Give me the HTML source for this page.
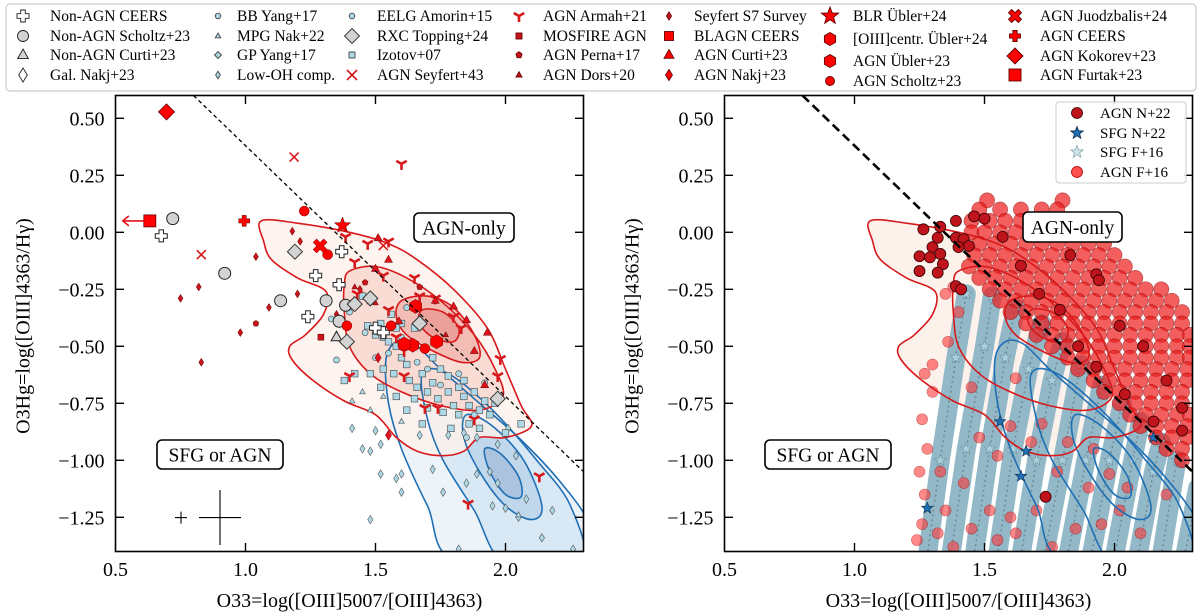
<!DOCTYPE html>
<html><head><meta charset="utf-8"><style>
html,body{margin:0;padding:0;background:#fff;}
svg{display:block;font-family:"Liberation Serif","DejaVu Serif",serif;}
</style></head><body>
<svg id="fig" width="1200" height="614" viewBox="0 0 1200 614" xmlns="http://www.w3.org/2000/svg">
<defs>
<clipPath id="clipL"><rect x="115.5" y="95.5" width="468" height="456"/></clipPath>
<clipPath id="clipR"><rect x="724.5" y="95.5" width="468" height="456"/></clipPath>
</defs>
<g id="legendTop"></g>
<g id="panelL"></g>
<g id="panelR"></g>
</svg>
<script>
// ---------------- DATA ----------------
const xTicks = [0.5, 1.0, 1.5, 2.0];
const xTickLabels = ["0.5", "1.0", "1.5", "2.0"];
const yTicks = [0.5, 0.25, 0.0, -0.25, -0.5, -0.75, -1.0, -1.25];
const yTickLabels = ["0.50", "0.25", "0.00", "\u22120.25", "\u22120.50", "\u22120.75", "\u22121.00", "\u22121.25"];
const demarcLine = [[0.8, 0.6], [2.3, -1.05]];

const redContour1 = [[1.06,0.05],[1.2,0.04],[1.4,0.0],[1.55,-0.05],[1.66,-0.12],[1.8,-0.25],[1.93,-0.42],[2.0,-0.6],[2.06,-0.76],[2.1,-0.85],[2.0,-0.9],[1.9,-0.9],[1.84,-0.96],[1.76,-0.98],[1.66,-0.96],[1.58,-0.9],[1.5,-0.8],[1.38,-0.74],[1.26,-0.65],[1.18,-0.56],[1.17,-0.5],[1.23,-0.45],[1.3,-0.36],[1.31,-0.26],[1.2,-0.2],[1.1,-0.12],[1.07,-0.04]];
const redContour2 = [[1.4,-0.17],[1.5,-0.15],[1.62,-0.2],[1.75,-0.3],[1.88,-0.45],[1.96,-0.6],[1.99,-0.72],[1.9,-0.78],[1.75,-0.76],[1.6,-0.7],[1.48,-0.62],[1.4,-0.5],[1.38,-0.35],[1.38,-0.23]];
const redContour3 = [[1.6,-0.3],[1.7,-0.28],[1.8,-0.33],[1.88,-0.45],[1.9,-0.55],[1.83,-0.57],[1.72,-0.52],[1.62,-0.45],[1.58,-0.37]];
const redContour4 = [[1.68,-0.34],[1.76,-0.35],[1.82,-0.42],[1.8,-0.48],[1.72,-0.46],[1.67,-0.4]];
const blueContour1 = [[1.54,-0.56],[1.58,-0.48],[1.65,-0.49],[1.75,-0.6],[1.9,-0.75],[2.05,-0.9],[2.2,-1.08],[2.32,-1.27],[2.36,-1.45],[1.82,-1.45],[1.7,-1.2],[1.6,-0.95],[1.55,-0.75]];
const blueContour2 = [[1.68,-0.62],[1.78,-0.62],[1.95,-0.78],[2.12,-1.0],[2.25,-1.2],[2.29,-1.45],[2.0,-1.45],[1.88,-1.22],[1.76,-1.0],[1.7,-0.82]];
const blueContour3 = [[1.85,-0.8],[1.95,-0.85],[2.07,-1.0],[2.14,-1.2],[2.1,-1.26],[2.0,-1.2],[1.9,-1.05],[1.84,-0.9]];
const blueContour4 = [[1.92,-0.95],[1.98,-0.97],[2.05,-1.07],[2.06,-1.16],[2.0,-1.15],[1.94,-1.05]];

// left-panel samples
const izotov = [[1.47,-0.41],[1.50,-0.45],[1.53,-0.46],[1.55,-0.48],[1.58,-0.50],[1.60,-0.55],[1.62,-0.58],[1.57,-0.62],[1.53,-0.60],[1.48,-0.62],[1.52,-0.68],[1.58,-0.72],[1.63,-0.65],[1.66,-0.68],[1.68,-0.62],[1.70,-0.70],[1.72,-0.66],[1.75,-0.60],[1.78,-0.63],[1.74,-0.73],[1.78,-0.70],[1.80,-0.76],[1.82,-0.68],[1.84,-0.72],[1.86,-0.76],[1.88,-0.70],[1.90,-0.78],[1.92,-0.74],[1.94,-0.80],[1.86,-0.84],[1.82,-0.80],[1.76,-0.79],[1.70,-0.77],[1.65,-0.73],[1.62,-0.78],[1.68,-0.84],[1.90,-0.86],[1.96,-0.75],[2.0,-0.88],[2.06,-0.84],[1.65,-0.42],[1.60,-0.40],[1.56,-0.36],[1.52,-0.40],[1.48,-0.30],[1.45,-0.28],[1.42,-0.62],[1.38,-0.65],[1.72,-0.55],[1.79,-0.86],[1.84,-0.65],[1.58,-0.42]];
const bbYang = [[1.35,-0.56],[1.40,-0.35],[1.55,-0.53],[1.60,-0.46],[1.66,-0.57],[1.75,-0.67],[1.82,-0.62],[1.88,-0.8],[1.92,-0.66],[1.56,-0.42],[1.62,-0.33],[1.46,-0.44],[1.50,-0.55],[1.70,-0.6],[1.85,-0.9],[1.33,-0.38]];
const mpgNak = [[1.41,-0.74],[1.48,-0.78],[1.53,-0.72],[2.05,-1.24],[1.60,-0.83],[1.45,-0.7]];
const gpYang = [[1.41,-0.86],[1.50,-0.87],[1.45,-0.95],[1.48,-0.96],[1.52,-0.93],[1.52,-1.06],[1.58,-1.08],[1.60,-1.06],[1.60,-1.14],[1.48,-1.26],[1.67,-0.89],[1.78,-0.89],[1.72,-1.04],[1.76,-1.14],[1.85,-1.10],[1.89,-1.06],[1.94,-1.05],[1.97,-1.10],[2.0,-1.21],[2.04,-0.98],[2.08,-1.17],[2.18,-1.22],[2.14,-1.34],[2.26,-1.39],[1.82,-1.39],[1.89,-0.90],[1.97,-0.93],[2.01,-0.86],[1.84,-0.88],[1.95,-1.2],[2.05,-1.25]];
const nonAgnScholtz = [[0.72,0.06],[0.92,-0.18],[1.135,-0.30],[1.31,-0.30],[1.385,-0.32],[1.36,-0.39]];
const nonAgnCeers = [[0.676,-0.016],[1.27,-0.19],[1.24,-0.37],[1.37,-0.085],[1.36,-0.23],[1.50,-0.42],[1.53,-0.44]];
const nonAgnCurti = [[1.35,-0.46]];
const rxcTopping = [[1.19,-0.085],[1.42,-0.315],[1.39,-0.48],[1.67,-0.40],[1.48,-0.29],[1.97,-0.73]];
const agnSeyfert = [[1.187,0.33],[0.83,-0.098],[1.53,-0.058]];
const seyfertS7 = [[1.18,0.005],[1.21,-0.04],[1.04,-0.107],[0.82,-0.24],[0.75,-0.29],[1.09,-0.33],[1.20,-0.27],[0.98,-0.44],[0.83,-0.57],[1.35,-0.36],[1.44,-0.25]];
const agnArmah = [[1.6,0.30],[1.385,-0.02],[1.47,-0.05],[1.55,-0.04],[1.42,-0.13],[1.53,-0.19],[1.65,-0.2],[1.43,-0.27],[1.67,-0.28],[1.73,-0.29],[1.55,-0.34],[1.80,-0.37],[1.83,-0.42],[1.98,-0.555],[1.97,-0.63],[1.40,-0.63],[1.61,-0.63],[1.69,-0.77],[1.74,-0.77],[1.856,-1.19],[2.13,-1.07],[1.88,-0.82],[1.61,-0.52],[1.58,-0.46]];
const agnCurti = [[1.51,-0.025],[1.55,-0.12],[1.50,-0.16],[1.59,-0.39],[1.80,-0.325],[1.85,-0.385],[1.88,-0.52],[1.93,-0.44],[1.92,-0.67],[1.73,-0.30]];
const agnDors = [[1.50,-0.31],[1.42,-0.24],[1.77,-0.45]];
const agnPerna = [[1.67,-0.24],[1.46,-0.22],[1.04,-0.40]];
const mosfireAgn = [[1.29,-0.46]];
const agnNakj = [[1.55,-0.89],[1.51,-0.55]];
const agnScholtz = [[1.226,0.093],[1.316,-0.098],[1.39,-0.41],[1.56,-0.41],[1.69,-0.51]];
const agnUbler = [[1.654,-0.325],[1.735,-0.48],[1.643,-0.495],[1.61,-0.49]];
const blrUbler = [[1.373,0.03]];
const agnJuodzbalis = [[1.287,-0.06]];
const agnCeers = [[0.995,0.05]];
const agnKokorev = [[0.696,0.528]];
const agnFurtak = [[0.632,0.05]];

// right-panel samples
const sfgF16Tracks = [
 [[1.28,-1.42],[1.33,-1.0],[1.39,-0.55],[1.43,-0.27]],
 [[1.37,-1.42],[1.43,-0.95],[1.50,-0.5],[1.53,-0.28]],
 [[1.46,-1.42],[1.52,-0.95],[1.58,-0.55],[1.62,-0.33]],
 [[1.55,-1.42],[1.61,-0.95],[1.67,-0.6],[1.72,-0.40]],
 [[1.64,-1.42],[1.70,-1.0],[1.76,-0.65],[1.80,-0.48]],
 [[1.73,-1.42],[1.80,-1.0],[1.87,-0.58]],
 [[1.82,-1.42],[1.89,-1.0],[1.95,-0.67]],
 [[1.91,-1.42],[1.98,-1.0],[2.03,-0.75]],
 [[2.00,-1.42],[2.07,-1.0],[2.10,-0.83]],
 [[2.09,-1.42],[2.15,-1.05],[2.18,-0.92]],
 [[2.18,-1.42],[2.24,-1.0]],
 [[2.27,-1.42],[2.32,-1.12]]
];
const agnF16Rows = [
 [0.14,[1.51,1.80]],
 [0.10,[1.48,1.56,1.64,1.72,1.78]],
 [0.05,[1.45,1.52,1.58,1.64,1.70,1.76,1.82,1.86]],
 [0.00,[1.45,1.50,1.56,1.62,1.68,1.74,1.80,1.86,1.92]],
 [-0.05,[1.48,1.54,1.60,1.66,1.72,1.78,1.84,1.90,1.96]],
 [-0.10,[1.46,1.52,1.58,1.64,1.70,1.76,1.82,1.88,1.94,2.00]],
 [-0.15,[1.44,1.50,1.56,1.62,1.68,1.74,1.80,1.86,1.92,1.98,2.04]],
 [-0.20,[1.48,1.54,1.60,1.66,1.72,1.78,1.84,1.90,1.96,2.02,2.08]],
 [-0.25,[1.52,1.58,1.64,1.70,1.76,1.82,1.88,1.94,2.00,2.06,2.12,2.18]],
 [-0.30,[1.56,1.62,1.68,1.74,1.80,1.86,1.92,1.98,2.04,2.10,2.16,2.22]],
 [-0.35,[1.60,1.66,1.72,1.78,1.84,1.90,1.96,2.02,2.08,2.14,2.20,2.26]],
 [-0.40,[1.66,1.72,1.78,1.84,1.90,1.96,2.02,2.08,2.14,2.20,2.26]],
 [-0.45,[1.70,1.76,1.82,1.88,1.94,2.00,2.06,2.12,2.18,2.24,2.29]],
 [-0.50,[1.76,1.82,1.88,1.94,2.00,2.06,2.12,2.18,2.24,2.29]],
 [-0.55,[1.82,1.88,1.94,2.00,2.06,2.12,2.18,2.24,2.29]],
 [-0.60,[1.86,1.92,1.98,2.04,2.10,2.16,2.22,2.28]],
 [-0.65,[1.92,1.98,2.04,2.10,2.16,2.22,2.28]],
 [-0.70,[1.96,2.02,2.08,2.14,2.20,2.26]],
 [-0.75,[2.02,2.08,2.14,2.20,2.26]],
 [-0.80,[2.06,2.12,2.18,2.24,2.29]],
 [-0.85,[2.10,2.16,2.22,2.28]],
 [-0.90,[2.16,2.22,2.28]],
 [-0.95,[2.20,2.26]],
 [-1.00,[2.26]]
];
const agnF16Scatter = [[1.27,-0.62],[1.30,-0.70],[1.26,-0.82],[1.28,-0.95],[1.25,-1.05],[1.27,-1.15],[1.26,-1.28],[1.24,-1.35],[1.32,-1.32],[1.35,-1.22],[1.38,-1.38],[1.45,-1.30],[1.52,-1.22],[1.55,-1.35],[1.60,-1.25],[1.30,-0.58],[1.36,-0.48],[1.40,-0.35],[1.33,-1.05],[1.42,-1.10],[1.62,-1.32],[1.70,-1.22],[1.76,-1.38],[1.85,-1.30],[1.95,-1.28],[2.02,-1.22],[2.10,-1.32],[2.2,-1.15],[1.82,-0.92],[1.72,-0.84],[1.60,-0.85],[1.68,-0.92],[1.92,-0.95],[1.48,-0.90],[1.55,-0.98],[1.90,-1.12],[1.98,-1.06],[2.05,-1.12],[1.45,-0.68],[1.62,-0.64],[1.78,-1.05],[1.35,-0.27],[1.38,-0.24]];
const agnN22 = [[1.265,0.013],[1.33,0.024],[1.39,0.05],[1.46,0.07],[1.50,0.06],[1.32,-0.024],[1.30,-0.065],[1.25,-0.105],[1.29,-0.11],[1.33,-0.095],[1.34,-0.14],[1.25,-0.17],[1.32,-0.177],[1.39,-0.024],[1.42,-0.03],[1.44,-0.06],[1.40,-0.065],[1.39,-0.236],[1.41,-0.25],[1.93,-0.184],[1.94,-0.21],[1.735,-1.16],[1.57,-0.02],[1.79,-0.34],[1.93,-0.59],[2.02,-0.41],[2.11,-0.50],[2.2,-0.65],[2.26,-0.77],[2.04,-0.71],[2.15,-0.83],[1.86,-0.50],[1.71,-0.27],[1.64,-0.147],[1.83,-0.10],[2.26,-0.87]];
const sfgN22 = [[1.28,-1.21],[1.64,-1.07],[1.66,-0.96],[1.56,-0.83],[2.15,-0.90]];

// ---------------- DRAWING ----------------
const NS = 'http://www.w3.org/2000/svg';
function mk(tag, attrs, parent) {
  const e = document.createElementNS(NS, tag);
  for (const k in attrs) e.setAttribute(k, attrs[k]);
  parent.appendChild(e);
  return e;
}
const Y0 = 232.3, YS = 228, XS = 260;
function makeAxis(x0) {
  return { sx: v => x0 + (v - 0.5) * XS, sy: v => Y0 - v * YS };
}
const AL = makeAxis(115.5), AR = makeAxis(724.5);

function polyPts(cx, cy, pts) { return pts.map(p => (cx + p[0]).toFixed(1) + ',' + (cy + p[1]).toFixed(1)).join(' '); }
function regPoly(n, s, rot) { const a = []; for (let i = 0; i < n; i++) { const t = rot + i * 2 * Math.PI / n; a.push([s * Math.cos(t), s * Math.sin(t)]); } return a; }
function starPts(s) { const a = []; for (let i = 0; i < 10; i++) { const r = i % 2 ? s * 0.42 : s; const t = -Math.PI / 2 + i * Math.PI / 5; a.push([r * Math.cos(t), r * Math.sin(t)]); } return a; }
function plusPts(s, w) { return [[-w,-s],[w,-s],[w,-w],[s,-w],[s,w],[w,w],[w,s],[-w,s],[-w,w],[-s,w],[-s,-w],[-w,-w]]; }
function rot45(pts) { const c = Math.SQRT1_2; return pts.map(p => [(p[0] - p[1]) * c, (p[0] + p[1]) * c]); }

function marker(parent, type, cx, cy, s, fill, stroke, sw, op) {
  let e;
  const base = { fill: fill, stroke: stroke, 'stroke-width': sw };
  if (op !== undefined) base['opacity'] = op;
  if (type === 'circle') { e = mk('circle', Object.assign({ cx: cx, cy: cy, r: s }, base), parent); }
  else if (type === 'square') { e = mk('rect', Object.assign({ x: cx - s, y: cy - s, width: 2 * s, height: 2 * s }, base), parent); }
  else if (type === 'd') { e = mk('polygon', Object.assign({ points: polyPts(cx, cy, [[0,-s],[s*0.62,0],[0,s],[-s*0.62,0]]) }, base), parent); }
  else if (type === 'D') { e = mk('polygon', Object.assign({ points: polyPts(cx, cy, [[0,-s],[s,0],[0,s],[-s,0]]) }, base), parent); }
  else if (type === 'tri') { e = mk('polygon', Object.assign({ points: polyPts(cx, cy, [[0,-s],[s*0.9,s*0.6],[-s*0.9,s*0.6]]) }, base), parent); }
  else if (type === 'P') { e = mk('polygon', Object.assign({ points: polyPts(cx, cy, plusPts(s, s * 0.38)) }, base), parent); }
  else if (type === 'X') { e = mk('polygon', Object.assign({ points: polyPts(cx, cy, rot45(plusPts(s * 1.15, s * 0.38))) }, base), parent); }
  else if (type === 'hex') { e = mk('polygon', Object.assign({ points: polyPts(cx, cy, regPoly(6, s, -Math.PI / 2)) }, base), parent); }
  else if (type === 'pent') { e = mk('polygon', Object.assign({ points: polyPts(cx, cy, regPoly(5, s, -Math.PI / 2)) }, base), parent); }
  else if (type === 'star') { e = mk('polygon', Object.assign({ points: polyPts(cx, cy, starPts(s)) }, base), parent); }
  else if (type === 'x') { e = mk('path', { d: `M${cx-s},${cy-s}L${cx+s},${cy+s}M${cx-s},${cy+s}L${cx+s},${cy-s}`, stroke: fill, 'stroke-width': 1.6, fill: 'none' }, parent); }
  else if (type === 'tri1') { e = mk('path', { d: `M${cx},${cy}L${cx},${cy+s}M${cx},${cy}L${cx-s*0.87},${cy-s*0.5}M${cx},${cy}L${cx+s*0.87},${cy-s*0.5}`, stroke: fill, 'stroke-width': 2.6, fill: 'none' }, parent); }
  return e;
}

function smoothPath(ax, pts, closed) {
  const P = pts.map(p => [ax.sx(p[0]), ax.sy(p[1])]);
  const n = P.length;
  let d = `M${P[0][0].toFixed(1)},${P[0][1].toFixed(1)}`;
  const cnt = closed ? n : n - 1;
  for (let i = 0; i < cnt; i++) {
    const p0 = P[(i - 1 + n) % n], p1 = P[i], p2 = P[(i + 1) % n], p3 = P[(i + 2) % n];
    const c1 = [p1[0] + (p2[0] - p0[0]) / 6, p1[1] + (p2[1] - p0[1]) / 6];
    const c2 = [p2[0] - (p3[0] - p1[0]) / 6, p2[1] - (p3[1] - p1[1]) / 6];
    d += `C${c1[0].toFixed(1)},${c1[1].toFixed(1)} ${c2[0].toFixed(1)},${c2[1].toFixed(1)} ${p2[0].toFixed(1)},${p2[1].toFixed(1)}`;
  }
  return d + (closed ? 'Z' : '');
}

function drawFrame(parent, ax, x0) {
  const g = mk('g', {}, parent);
  
  
  const fr = mk('rect', { x: x0, y: 95.5, width: 468, height: 456, fill: 'none', stroke: '#000', 'stroke-width': 1.6 }, g);
  
  
  xTicks.forEach((v, i) => {
    const px = ax.sx(v);
    if (i > 0) {
      const t1 = mk('line', { x1: px, x2: px, y1: 551.5, y2: 543, stroke: '#000', 'stroke-width': 1.4 }, g);
      
      
      const t2 = mk('line', { x1: px, x2: px, y1: 95.5, y2: 104, stroke: '#000', 'stroke-width': 1.4 }, g);
      
      
    }
    const tl = mk('text', { x: px, y: 576, 'font-size': 20, 'text-anchor': 'middle' }, g);
    tl.textContent = xTickLabels[i];
    
    
  });
  yTicks.forEach((v, i) => {
    const py = ax.sy(v);
    const t1 = mk('line', { x1: x0, x2: x0 + 8.5, y1: py, y2: py, stroke: '#000', 'stroke-width': 1.4 }, g);
    
    
    const t2 = mk('line', { x1: x0 + 468, x2: x0 + 459.5, y1: py, y2: py, stroke: '#000', 'stroke-width': 1.4 }, g);
    
    
    const tl = mk('text', { x: x0 - 11, y: py + 7, 'font-size': 20, 'text-anchor': 'end' }, g);
    tl.textContent = yTickLabels[i];
    
    
  });
  const xl = mk('text', { x: x0 + 234, y: 607, 'font-size': 20, 'text-anchor': 'middle' }, g);
  xl.textContent = 'O33=log([OIII]5007/[OIII]4363)';
  
  
  const yx = x0 - 86, yy = 326;
  const yl = mk('text', { x: yx, y: yy, 'font-size': 20, 'text-anchor': 'middle', transform: `rotate(-90 ${yx} ${yy})` }, g);
  yl.textContent = 'O3Hg=log([OIII]4363/H\u03B3)';
  
  
}

function drawBox(parent, x, y, w, h, label, name) {
  const g = mk('g', {}, parent);
  
  
  mk('rect', { x: x, y: y, width: w, height: h, rx: 5, fill: '#fff', stroke: '#000', 'stroke-width': 1.6 }, g);
  const t = mk('text', { x: x + w / 2, y: y + h / 2 + 7, 'font-size': 19.5, 'text-anchor': 'middle' }, g);
  t.textContent = label;
}

function drawContours(parent, ax, fills) {
  const red = [redContour1, redContour2, redContour3, redContour4];
  const blue = [blueContour1, blueContour2, blueContour3, blueContour4];
  const rf = ['#fdf1ec', '#f8d6cd', '#f1b5ac', '#e99a94'];
  const bf = ['#e9f2f9', '#d5e5f2', '#bcd3ea', '#a7bfdd'];
  const gF = mk('g', {}, parent);
  
  
  const gL = mk('g', {}, parent);
  
  
  blue.forEach((c, i) => {
    if (fills === 'all') {
      const f = mk('path', { d: smoothPath(ax, c, true), fill: bf[i], 'fill-opacity': 0.85, stroke: 'none' }, gF);
      
      
    }
    const l = mk('path', { d: smoothPath(ax, c, true), fill: 'none', stroke: '#1f6fb4', 'stroke-width': 1.6 }, gL);
    
    
  });
  red.forEach((c, i) => {
    if (fills === 'all' || (fills === 'outer' && i === 0)) {
      const f = mk('path', { d: smoothPath(ax, c, true), fill: rf[i], 'fill-opacity': fills === 'all' ? 0.8 : 1, stroke: 'none' }, gF);
      
      
    }
    const l = mk('path', { d: smoothPath(ax, c, true), fill: 'none', stroke: '#d7191c', 'stroke-width': 1.6 }, gL);
    
    
  });
  return { fills: gF, lines: gL };
}

function drawSeries(parent, ax, arr, type, s, fill, stroke, sw, name, op) {
  const g = mk('g', {}, parent);
  
  
  arr.forEach(p => {
    const m = marker(g, type, ax.sx(p[0]), ax.sy(p[1]), s, fill, stroke, sw, op);
    
    
  });
}

function drawDemarc(parent, ax, w, dash) {
  const l = mk('line', { x1: ax.sx(demarcLine[0][0]), y1: ax.sy(demarcLine[0][1]), x2: ax.sx(demarcLine[1][0]), y2: ax.sy(demarcLine[1][1]), stroke: '#000', 'stroke-width': w, 'stroke-dasharray': dash }, parent);
  
  
}

// ---------- LEFT PANEL ----------
const PL = document.getElementById('panelL');
const gLc = mk('g', { 'clip-path': 'url(#clipL)' }, PL);


const cL = drawContours(gLc, AL, 'all');
const LB = '#add8e6';
drawSeries(gLc, AL, gpYang, 'd', 4.2, LB, '#555', 0.6, 'gp-yang');
drawSeries(gLc, AL, mpgNak, 'tri', 3.2, LB, '#555', 0.6, 'mpg-nak');
drawSeries(gLc, AL, izotov, 'square', 3.3, LB, '#444', 0.6, 'izotov');
drawSeries(gLc, AL, bbYang, 'circle', 3, LB, '#444', 0.6, 'bb-yang');
drawSeries(gLc, AL, seyfertS7, 'd', 4, '#c8141b', '#600', 0.5, 'seyfert-s7');
drawSeries(gLc, AL, agnArmah, 'tri1', 6, '#d7191c', 'none', 0, 'agn-armah');
drawSeries(gLc, AL, agnCurti, 'tri', 4.5, '#e3111b', '#600', 0.5, 'agn-curti');
drawSeries(gLc, AL, agnDors, 'tri', 3.2, '#c8141b', '#600', 0.5, 'agn-dors');
drawSeries(gLc, AL, agnPerna, 'pent', 3.2, '#c8141b', '#600', 0.5, 'agn-perna');
drawSeries(gLc, AL, mosfireAgn, 'square', 3, '#c8141b', '#600', 0.5, 'mosfire-agn');
drawSeries(gLc, AL, agnNakj, 'd', 5, '#e3111b', '#600', 0.5, 'agn-nakj');
drawSeries(gLc, AL, nonAgnScholtz, 'circle', 6, '#d3d3d3', '#222', 1, 'non-agn-scholtz');
drawSeries(gLc, AL, nonAgnCurti, 'tri', 6, '#d3d3d3', '#222', 1, 'non-agn-curti');
drawSeries(gLc, AL, rxcTopping, 'D', 7.5, '#d3d3d3', '#333', 1, 'rxc-topping');
drawSeries(gLc, AL, nonAgnCeers, 'P', 6, '#fff', '#222', 1, 'non-agn-ceers');
drawSeries(gLc, AL, agnSeyfert, 'x', 4.5, '#d7191c', 'none', 0, 'agn-seyfert');
drawSeries(gLc, AL, agnScholtz, 'circle', 5, '#ff0000', '#600', 0.5, 'agn-scholtz');
drawSeries(gLc, AL, agnUbler, 'hex', 7, '#ff0000', '#600', 0.5, 'agn-ubler');
drawSeries(gLc, AL, blrUbler, 'star', 8.5, '#ff0000', '#600', 0.5, 'blr-ubler');
drawSeries(gLc, AL, agnJuodzbalis, 'X', 6.5, '#ff0000', '#600', 0.5, 'agn-juodzbalis');
drawSeries(gLc, AL, agnCeers, 'P', 5.5, '#ff0000', '#600', 0.5, 'agn-ceers');
drawSeries(gLc, AL, agnKokorev, 'D', 8, '#ff0000', '#600', 0.8, 'agn-kokorev');
drawSeries(gLc, AL, agnFurtak, 'square', 6, '#ff0000', '#600', 0.8, 'agn-furtak');
drawDemarc(gLc, AL, 1.3, '4,3');
const fx = AL.sx(agnFurtak[0][0]), fy = AL.sy(agnFurtak[0][1]);
const arr = mk('path', { d: `M${fx - 6},${fy}H${fx - 27}M${fx - 21},${fy - 5}L${fx - 27},${fy}L${fx - 21},${fy + 5}`, stroke: '#e3111b', 'stroke-width': 1.6, fill: 'none' }, gLc);


const eb = mk('path', { d: 'M175,517.6H187M181,511.6V523.6M199,517.6H241M220,490V545', stroke: '#000', 'stroke-width': 1.1, fill: 'none' }, gLc);


drawBox(PL, 414, 213, 100, 29, 'AGN-only', 'agn-only-label');
drawBox(PL, 157, 440, 126, 29, 'SFG or AGN', 'sfg-or-agn-label');
drawFrame(PL, AL, 115.5);

// ---------- RIGHT PANEL ----------
const PR = document.getElementById('panelR');
const gRc = mk('g', { 'clip-path': 'url(#clipR)' }, PR);


const cR = drawContours(gRc, AR, 'outer');
const gTr = mk('g', {}, gRc);


sfgF16Tracks.forEach(tr => {
  const d = 'M' + tr.map(p => AR.sx(p[0]).toFixed(1) + ',' + AR.sy(p[1]).toFixed(1)).join('L');
  const pl = mk('path', { d: d, stroke: '#93b9c8', 'stroke-width': 19, fill: 'none', 'stroke-linecap': 'round', 'stroke-linejoin': 'round' }, gTr);
  
  
  const pl2 = mk('path', { d: d, stroke: '#6f8a96', 'stroke-width': 1.5, 'stroke-dasharray': '2,3', fill: 'none' }, gTr);
  
  
  tr.forEach(p => {
    const m = marker(gTr, 'star', AR.sx(p[0]), AR.sy(p[1]), 6, '#a9d0dc', '#6f8f9c', 0.6);
    
    
  });
});
drawSeries(gRc, AR, agnF16Scatter, 'circle', 5.5, '#ff3a3a', '#b00000', 0.6, 'agn-f16-outlier', 0.6);
const gF16 = mk('g', {}, gRc);


agnF16Rows.forEach(row => {
  row[1].forEach(xv => {
    const m = marker(gF16, 'circle', AR.sx(xv), AR.sy(row[0]), 7.5, '#ee1c1c', '#9a0000', 0.7, 0.7);
    
    
  });
});
gRc.appendChild(cR.lines);
drawSeries(gRc, AR, agnN22, 'circle', 5.5, '#c0141c', '#300', 0.8, 'agn-n22');
drawSeries(gRc, AR, sfgN22, 'star', 6, '#1f6fb4', '#0a2a4a', 0.6, 'sfg-n22');
drawDemarc(gRc, AR, 2.6, '9,5');
drawBox(PR, 1023, 212, 99, 30, 'AGN-only', 'agn-only-label-right');
drawBox(PR, 765, 440, 126, 29, 'SFG or AGN', 'sfg-or-agn-label-right');
drawFrame(PR, AR, 724.5);
const rl = mk('g', {}, PR);


mk('rect', { x: 1056, y: 102, width: 130, height: 81, rx: 3, fill: '#fff', 'fill-opacity': 0.85, stroke: '#ccc', 'stroke-width': 1 }, rl);
const rlEntries = [['circle', 5.5, '#c0141c', '#300', 'AGN N+22', 113], ['star', 6.5, '#1f6fb4', '#0a2a4a', 'SFG N+22', 133], ['star', 6.5, '#cfe6ee', '#8aa', 'SFG F+16', 152], ['circle', 5.5, '#ff5050', '#b00000', 'AGN F+16', 172]];
rlEntries.forEach(e => {
  const g = mk('g', {}, rl);
  
  
  marker(g, e[0], 1077, e[5], e[1], e[2], e[3], 0.8);
  const t = mk('text', { x: 1100, y: e[5] + 5, 'font-size': 15 }, g);
  t.textContent = e[4];
});

// ---------- TOP LEGEND ----------
const TL = document.getElementById('legendTop');
mk('rect', { x: 6, y: 4, width: 1190, height: 87, rx: 4, fill: '#fff', stroke: '#ccc', 'stroke-width': 1.2 }, TL);
const legCols = [
  [23, 50, [['P', 6, '#fff', '#222', 'Non-AGN CEERS', 16], ['circle', 5.5, '#d3d3d3', '#222', 'Non-AGN Scholtz+23', 36], ['tri', 6, '#d3d3d3', '#222', 'Non-AGN Curti+23', 55], ['d', 7, '#fff', '#222', 'Gal. Nakj+23', 75]]],
  [218, 237, [['circle', 2.8, LB, '#444', 'BB Yang+17', 16], ['tri', 3, LB, '#444', 'MPG Nak+22', 36], ['D', 3.5, LB, '#444', 'GP Yang+17', 55], ['d', 3.8, LB, '#444', 'Low-OH comp.', 75]]],
  [352, 377, [['circle', 2.8, LB, '#444', 'EELG Amorin+15', 16], ['D', 7.5, '#d3d3d3', '#333', 'RXC Topping+24', 36], ['square', 3, LB, '#444', 'Izotov+07', 55], ['x', 5, '#d7191c', 'none', 'AGN Seyfert+43', 75]]],
  [519, 543, [['tri1', 6, '#d7191c', 'none', 'AGN Armah+21', 16], ['square', 3, '#c8141b', '#600', 'MOSFIRE AGN', 36], ['pent', 3.3, '#c8141b', '#600', 'AGN Perna+17', 55], ['tri', 3.3, '#c8141b', '#600', 'AGN Dors+20', 75]]],
  [669, 694, [['d', 4, '#c8141b', '#600', 'Seyfert S7 Survey', 16], ['square', 4.5, '#ff0000', '#600', 'BLAGN CEERS', 36], ['tri', 5.5, '#ff0000', '#600', 'AGN Curti+23', 55], ['d', 5.5, '#ff0000', '#600', 'AGN Nakj+23', 75]]],
  [830, 853, [['star', 9, '#ff0000', '#600', 'BLR \u00DCbler+24', 16], ['hex', 6.5, '#ff0000', '#600', '[OIII]centr. \u00DCbler+24', 39], ['hex', 6.5, '#ff0000', '#600', 'AGN \u00DCbler+23', 61], ['circle', 4.5, '#ff0000', '#600', 'AGN Scholtz+23', 81]]],
  [1015, 1040, [['X', 6, '#ff0000', '#600', 'AGN Juodzbalis+24', 16], ['P', 5.5, '#ff0000', '#600', 'AGN CEERS', 36], ['D', 8, '#ff0000', '#600', 'AGN Kokorev+23', 56], ['square', 6, '#ff0000', '#600', 'AGN Furtak+23', 75]]]
];
legCols.forEach(col => {
  col[2].forEach(e => {
    const g = mk('g', {}, TL);
    
    
    marker(g, e[0], col[0], e[5], e[1], e[2], e[3], 0.9);
    const t = mk('text', { x: col[1], y: e[5] + 5, 'font-size': 15.5 }, g);
    t.textContent = e[4];
  });
});
</script>
</body></html>
